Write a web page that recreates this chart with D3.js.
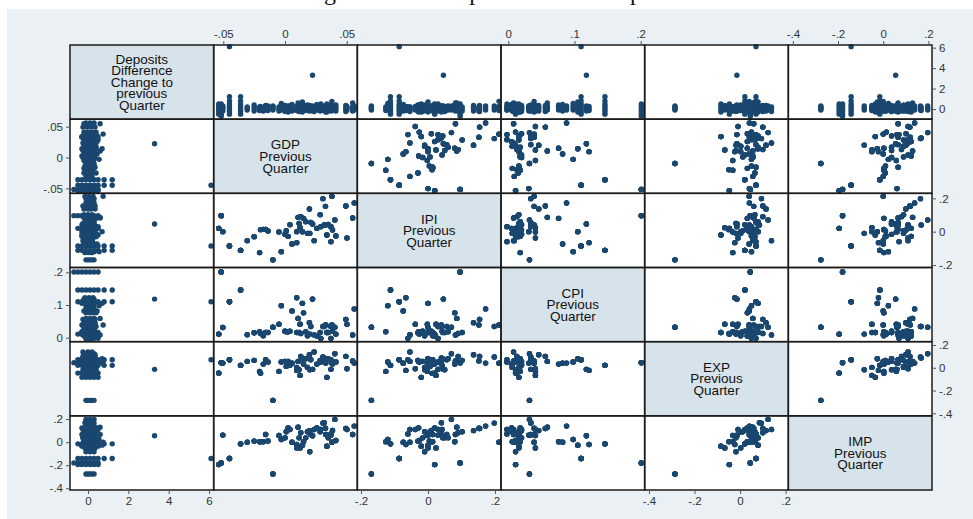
<!DOCTYPE html>
<html>
<head>
<meta charset="utf-8">
<script src="https://cdn.jsdelivr.net/npm/d3@7"></script>
<style>
  body { margin: 0; background: #ffffff; }
  svg { display: block; }
  text { font-family: "Liberation Sans", Arial, Helvetica, sans-serif; }
</style>
</head>
<body>
<svg id="chart" width="973" height="519"></svg>
<script>
// ---- Variables of the scatterplot matrix (order = rows/columns) ----
const varLabels = [
  ["Deposits", "Difference", "Change to", "previous", "Quarter"],
  ["GDP", "Previous", "Quarter"],
  ["IPI", "Previous", "Quarter"],
  ["CPI", "Previous", "Quarter"],
  ["EXP", "Previous", "Quarter"],
  ["IMP", "Previous", "Quarter"]
];

// ---- Quarterly macro series (previous quarter growth) ----
const gdpPrev = [-0.0537,-0.0517,-0.0504,-0.045,-0.036,-0.0306,-0.025,-0.0206,-0.0198,-0.0176,
  -0.0157,-0.0138,-0.0098,-0.0049,-0.003,0.0,0.001,0.0025,0.004,0.0057,
  0.0095,0.0106,0.0128,0.015,0.0114,0.0122,0.0141,0.0095,0.0168,0.0198,
  0.0209,0.0223,0.0182,0.0201,0.0236,0.0258,0.0285,0.029,0.0317,0.033,
  0.035,0.0372,0.0385,0.0339,0.0307,0.0328,0.038,0.0404,0.0412,0.0372,
  0.0493,0.0561,0.0548,0.0502];
const ipiPrev = [0.02,0.096,0.0,-0.086,-0.112,-0.054,-0.03,-0.126,0.012,0.014,
  0.014,0.004,-0.169,-0.002,-0.12,-0.016,0.006,-0.028,0.042,-0.074,
  -0.066,0.086,0.09,0.08,0.05,0.024,0.0,0.0,0.06,0.136,
  0.056,0.046,-0.01,-0.01,-0.054,0.02,0.102,0.03,0.04,0.04,
  0.044,0.03,0.01,-0.02,0.198,0.152,0.212,0.07,-0.026,-0.06,
  0.154,0.172,0.082,-0.038];
const cpiPrev = [0.011,0.201,0.031,0.11,0.146,0.009,0.015,0.018,0.013,0.006,
  0.016,0.016,0.032,0.041,0.098,0.02,0.018,0.018,0.02,0.082,
  0.122,0.059,0.013,0.076,0.016,0.041,0.105,0.016,0.018,0.046,
  0.034,0.118,0.006,0.011,0.008,0.005,0.016,-0.002,0.034,0.039,
  0.016,0.034,0.02,0.016,0.034,0.039,0.039,0.032,0.011,-0.002,
  0.056,0.088,0.008,0.041];
const expPrev = [-0.047,0.045,0.041,0.07,0.021,0.056,0.065,-0.032,-0.049,0.032,
  0.07,0.05,-0.286,-0.032,0.05,0.056,0.012,0.056,0.021,0.04,
  -0.023,0.056,0.1,0.032,-0.018,-0.067,0.079,0.003,0.079,0.114,
  0.07,-0.014,0.003,-0.018,0.138,0.032,0.065,0.05,0.085,0.041,
  0.079,-0.014,0.032,-0.084,0.094,0.06,0.04,0.123,0.05,0.07,
  0.1,0.041,0.06,-0.009];
const impPrev = [-0.195,-0.18,0.061,-0.142,-0.015,0.0,0.009,0.003,0.003,0.003,
  0.066,0.01,-0.276,0.058,0.023,0.037,0.09,0.124,0.11,0.0,
  -0.021,0.13,0.081,0.003,0.037,-0.05,-0.026,-0.05,0.037,0.1,
  0.066,0.055,0.09,-0.084,0.11,0.124,0.09,0.11,0.168,0.066,
  0.037,0.061,0.101,-0.035,0.165,0.12,0.0,0.197,0.014,0.07,
  0.118,0.139,0.066,0.11];

// ---- Deposit changes observed in each quarter ----
const depositChange = [
  [-0.5,-0.3,-0.1,0.1,0.3,0.5], [-0.7,-0.5,-0.3,-0.1,0.1,0.3,0.5], [-0.2,0,0.15,0.3],
  [-0.5,-0.3,-0.1,0.1,0.3,0.5,0.8,1.2,6.1], [-0.5,-0.3,-0.1,0.1,0.3,0.5,0.8,1.2], [-0.1,0.05,0.2],
  [-0.2,0,0.2,0.4], [-0.15,0.05,0.2], [-0.1,0.1,0.25], [-0.2,0,0.15],
  [-0.1,0.05,0.2,0.35], [-0.15,0.1,0.3], [-0.1,0,0.1,0.2,0.3], [-0.2,0,0.2],
  [-0.1,0.1,0.3,0.55], [-0.25,-0.05,0.15,0.35], [-0.1,0.1,0.25], [-0.3,-0.1,0.1,0.3],
  [0,0.15,0.3], [-0.2,0,0.2,0.45], [-0.15,0.05,0.25], [-0.1,0.1,0.3,0.6],
  [-0.2,0,0.2], [-0.1,0.1,0.25,0.4], [-0.25,0,0.2], [-0.1,0.05,0.2,0.35],
  [-0.3,-0.1,0.1,0.3,0.7], [-0.15,0.05,0.2], [-0.1,0.1,0.3], [-0.2,0,0.15,0.35],
  [-0.1,0.1,0.25], [-0.2,0,0.1,0.3,3.3], [-0.15,0.05,0.2,0.4], [-0.1,0.1,0.3],
  [-0.25,0,0.2], [-0.1,0.05,0.25,0.45], [-0.2,0,0.2], [-0.1,0.1,0.3,0.5],
  [-0.15,0.05,0.2], [-0.3,-0.1,0.1,0.3], [-0.1,0.1,0.25], [-0.2,0,0.15,0.4],
  [-0.1,0.05,0.2], [-0.3,-0.1,0.1,0.3,0.5], [-0.1,0.1,0.3], [-0.2,0,0.2],
  [-0.15,0.05,0.25,0.75], [-0.1,0.1,0.3], [-0.2,0,0.2,0.4], [-0.1,0.05,0.2],
  [-0.25,-0.05,0.15,0.35], [-0.1,0.1,0.3], [-0.2,0,0.2,0.6], [-0.1,0.1,0.25]
];

// ---- Axis ranges (horizontal / vertical) and tick values per variable ----
const xRanges = [[-0.892, 6.23], [-0.0578, 0.0586], [-0.211, 0.218], [-0.011, 0.206], [-0.419, 0.212], [-0.42, 0.216]];
const yRanges = [[-0.99, 6.26], [-0.0581, 0.0622], [-0.215, 0.230], [-0.0122, 0.2147], [-0.422, 0.229], [-0.415, 0.228]];
const tickValues = [[0, 2, 4, 6], [-0.05, 0, 0.05], [-0.2, 0, 0.2], [0, 0.1, 0.2], [-0.4, -0.2, 0, 0.2], [-0.4, -0.2, 0, 0.2]];

// ---- Build observation records ----
const macro = [gdpPrev, ipiPrev, cpiPrev, expPrev, impPrev];
const records = [];
depositChange.forEach((list, q) => {
  list.forEach(d => records.push([d, ...macro.map(s => s[q])]));
});

// ---- Layout ----
const svg = d3.select("#chart");
const W = 973, H = 519;
const gridLeft = 70, gridRight = 932, gridTop = 45, gridBottom = 490;
const n = varLabels.length;
const cw = (gridRight - gridLeft) / n;
const rh = (gridBottom - gridTop) / n;

const markColor = "#1a476f";
const bgColor = "#eaf0f3";
const diagColor = "#d7e3ea";

// caption above the graph area
svg.append("text")
  .attr("x", 304).attr("y", -0.5)
  .style("font-family", "'Liberation Serif', 'Times New Roman', serif")
  .style("font-size", "24px")
  .attr("fill", "#111")
  .text("Figure 3. Scatter plot matrix of deposits and macro variables");

svg.append("rect")
  .attr("x", 7).attr("y", 9).attr("width", W - 7).attr("height", H - 9)
  .attr("fill", bgColor);

const xScales = xRanges.map((dom, i) =>
  d3.scaleLinear().domain(dom).range([gridLeft + i * cw, gridLeft + (i + 1) * cw]));
const yScales = yRanges.map((dom, i) =>
  d3.scaleLinear().domain(dom).range([gridTop + (i + 1) * rh, gridTop + i * rh]));

const fmt = v => v === 0 ? "0" : String(v).replace(/^(-?)0\./, "$1.");

// cells
for (let r = 0; r < n; r++) {
  for (let c = 0; c < n; c++) {
    const x0 = gridLeft + c * cw, y0 = gridTop + r * rh;
    const cell = svg.append("g");
    cell.append("rect")
      .attr("x", x0).attr("y", y0).attr("width", cw).attr("height", rh)
      .attr("fill", r === c ? diagColor : "#ffffff");
    if (r === c) {
      const lines = varLabels[r];
      const lh = 11.6;
      const cy = y0 + rh / 2 - (lines.length - 1) * lh / 2;
      cell.append("text")
        .attr("text-anchor", "middle")
        .style("font-size", "13.5px")
        .attr("fill", "#111")
        .selectAll("tspan").data(lines).join("tspan")
        .attr("x", x0 + cw / 2)
        .attr("y", (d, i) => cy + i * lh)
        .attr("dy", "0.35em")
        .text(d => d);
    } else {
      cell.selectAll("circle").data(records).join("circle")
        .attr("cx", d => xScales[c](d[c]))
        .attr("cy", d => yScales[r](d[r]))
        .attr("r", 2.7)
        .attr("fill", markColor);
    }
  }
}

// cell borders
for (let r = 0; r < n; r++) {
  for (let c = 0; c < n; c++) {
    svg.append("rect")
      .attr("x", gridLeft + c * cw).attr("y", gridTop + r * rh)
      .attr("width", cw).attr("height", rh)
      .attr("fill", "none").attr("stroke", "#1b1b1b").attr("stroke-width", 1.5);
  }
}

// axes
function styleAxis(g) {
  g.select(".domain").remove();
  g.selectAll(".tick line").attr("stroke", "#555").attr("stroke-width", 1);
  g.selectAll(".tick text").attr("fill", "#333").style("font-size", "11.5px")
    .style("font-family", "'Liberation Sans', Arial, sans-serif");
}
for (let i = 0; i < n; i++) {
  const tv = tickValues[i];
  if (i % 2 === 1) {
    svg.append("g").attr("transform", `translate(0,${gridTop})`)
      .call(d3.axisTop(xScales[i]).tickValues(tv).tickFormat(fmt).tickSize(4).tickPadding(3))
      .call(styleAxis);
    svg.append("g").attr("transform", `translate(${gridLeft},0)`)
      .call(d3.axisLeft(yScales[i]).tickValues(tv).tickFormat(fmt).tickSize(4).tickPadding(3))
      .call(styleAxis);
  } else {
    svg.append("g").attr("transform", `translate(0,${gridBottom})`)
      .call(d3.axisBottom(xScales[i]).tickValues(tv).tickFormat(fmt).tickSize(4).tickPadding(3))
      .call(styleAxis);
    svg.append("g").attr("transform", `translate(${gridRight},0)`)
      .call(d3.axisRight(yScales[i]).tickValues(tv).tickFormat(fmt).tickSize(4).tickPadding(3))
      .call(styleAxis);
  }
}
</script>
</body>
</html>
